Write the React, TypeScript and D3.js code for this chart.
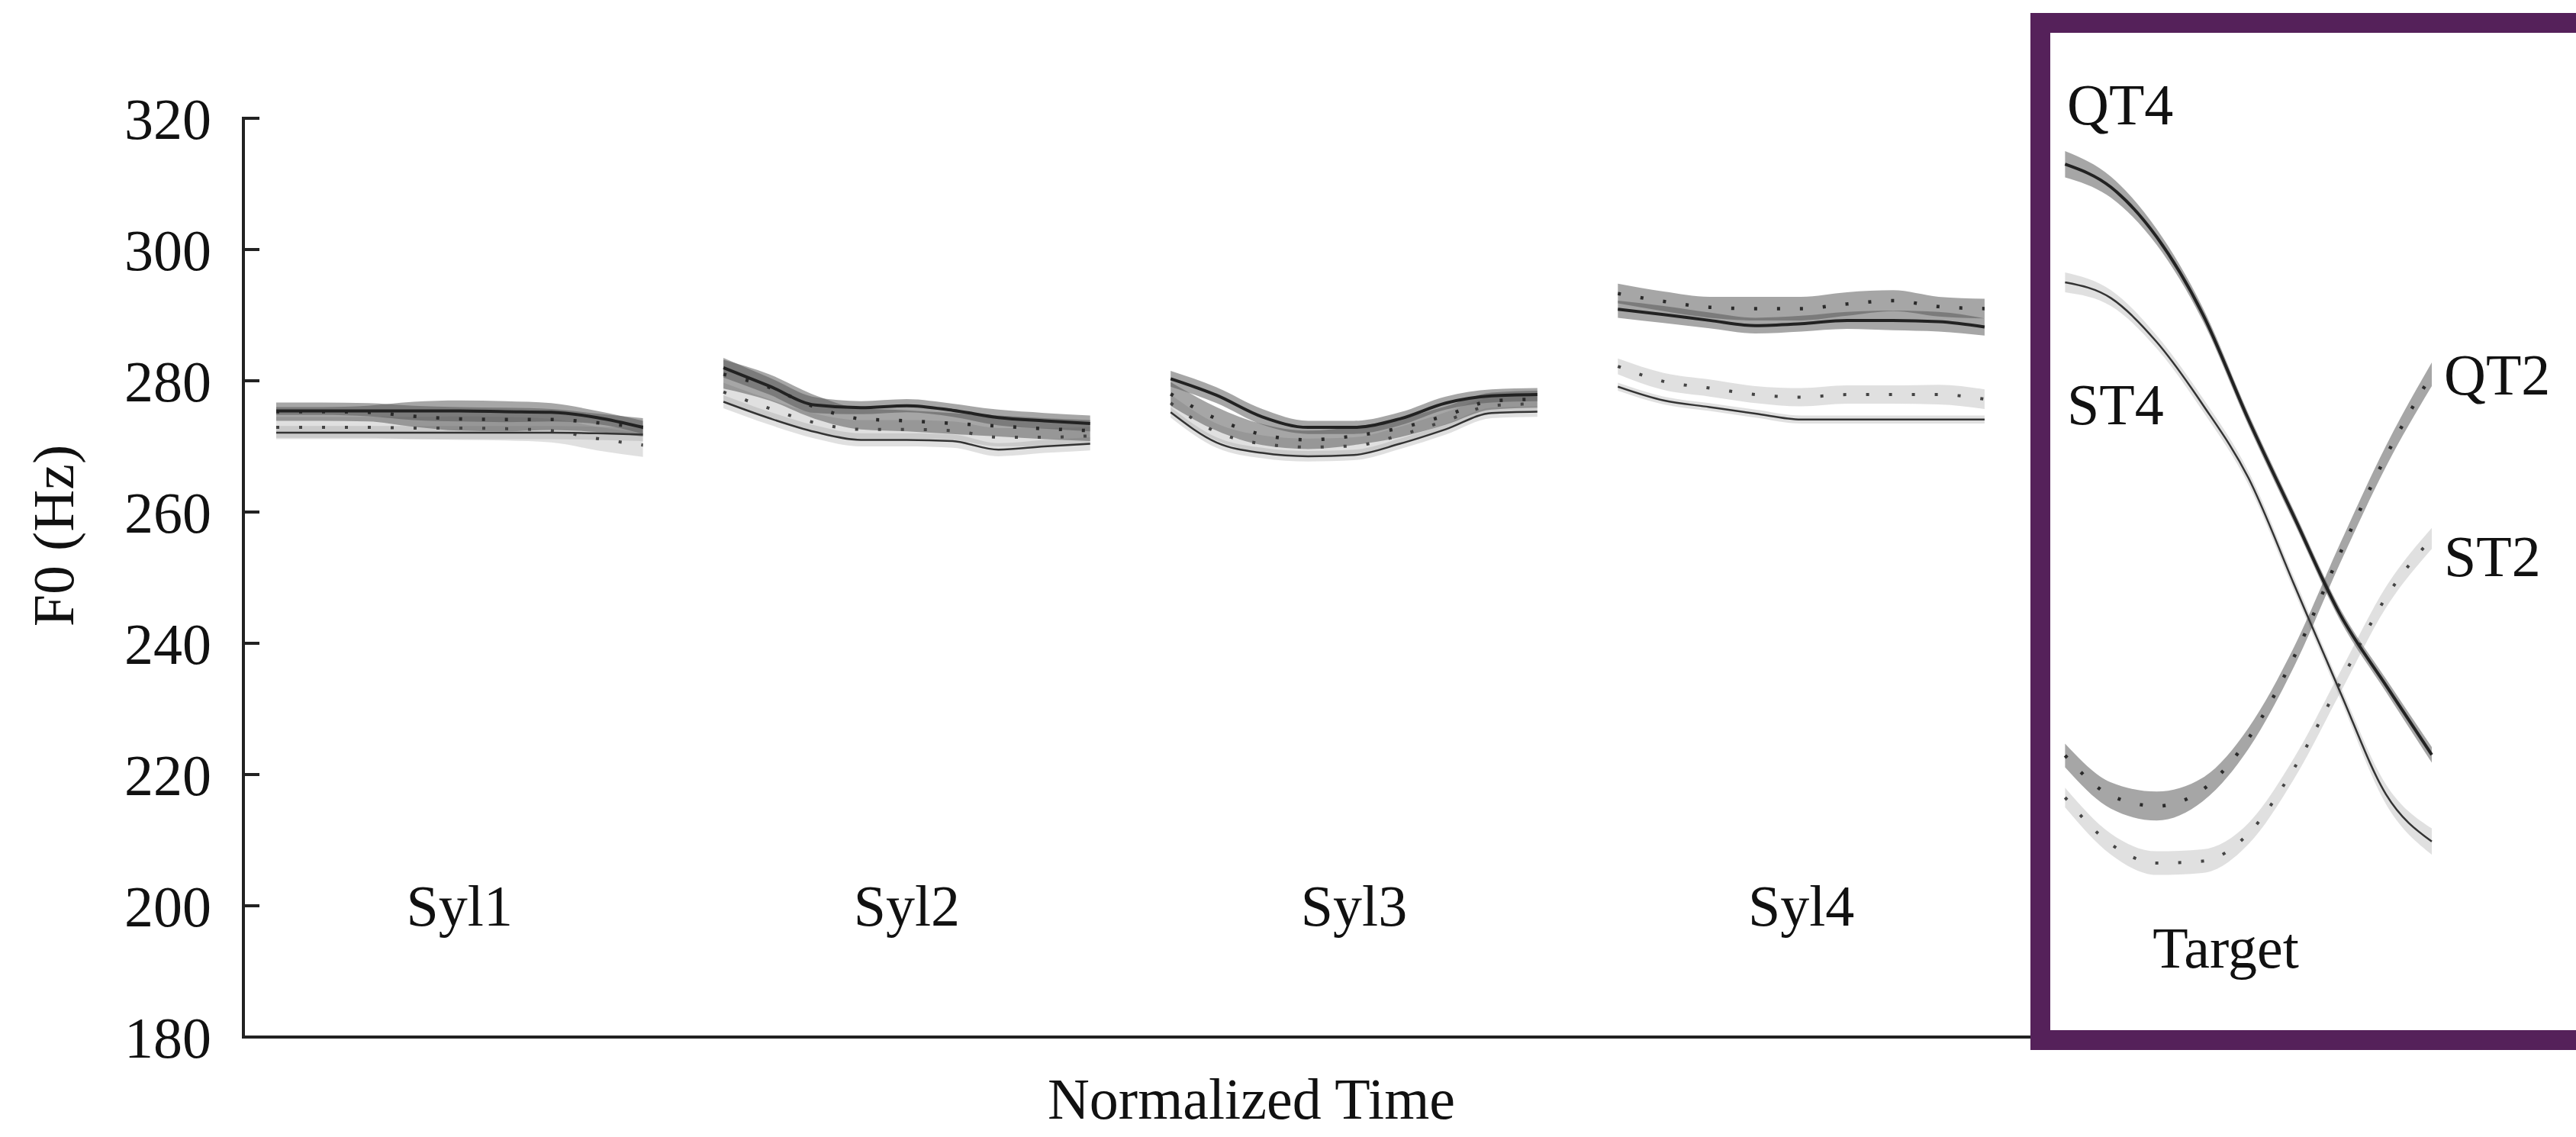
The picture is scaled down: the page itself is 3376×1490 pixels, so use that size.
import React, { useEffect } from "react";
import * as d3 from "d3";

const syllables = ["Syl1", "Syl2", "Syl3", "Syl4", "Target"];
const timeSteps = [0, 0.125, 0.25, 0.375, 0.5, 0.625, 0.75, 0.875, 1];
const yTicks = [180, 200, 220, 240, 260, 280, 300, 320];

// mean F0 (Hz), one row per syllable
const qt4Mean = [
  [275.4, 275.4, 275.4, 275.4, 275.4, 275.3, 275.2, 274.4, 272.9],
  [282.0, 279.2, 276.3, 275.9, 276.2, 275.5, 274.4, 273.9, 273.5],
  [280.3, 277.8, 274.5, 272.9, 272.9, 274.2, 276.6, 277.7, 277.9],
  [290.9, 290.1, 289.2, 288.4, 288.7, 289.2, 289.2, 289.0, 288.2],
  [313.0, 309.5, 301.9, 290.2, 274.1, 259.2, 244.4, 233.6, 223.0],
];
const qt2Mean = [
  [275.3, 275.3, 275.2, 274.6, 274.2, 274.1, 274.1, 273.6, 272.9],
  [281.0, 279.0, 276.0, 274.2, 273.9, 273.5, 273.1, 272.7, 272.4],
  [278.0, 274.2, 271.8, 271.0, 271.6, 272.8, 274.7, 276.9, 277.2],
  [293.3, 292.1, 291.2, 291.0, 291.0, 291.7, 292.2, 291.3, 291.0],
  [222.9, 216.8, 215.2, 217.7, 225.5, 238.0, 253.7, 268.5, 281.0],
];
const st4Mean = [
  [272.1, 272.1, 272.1, 272.1, 272.1, 272.1, 272.1, 272.0, 271.8],
  [276.8, 274.3, 272.2, 271.0, 271.0, 270.8, 269.5, 270.0, 270.4],
  [275.2, 270.6, 269.0, 268.5, 268.7, 270.4, 272.6, 275.1, 275.3],
  [279.1, 277.0, 276.0, 275.0, 274.1, 274.1, 274.1, 274.1, 274.1],
  [295.0, 292.6, 285.9, 276.4, 265.2, 248.9, 232.6, 217.0, 209.8],
];
const st2Mean = [
  [272.9, 272.9, 272.9, 272.8, 272.8, 272.7, 272.4, 271.2, 270.2],
  [278.3, 275.8, 273.6, 272.6, 272.6, 272.4, 271.4, 271.4, 271.6],
  [276.6, 272.2, 270.4, 269.9, 270.1, 271.7, 273.9, 276.2, 276.5],
  [282.2, 279.9, 278.9, 277.9, 277.5, 277.9, 277.9, 277.9, 277.2],
  [216.5, 209.4, 206.5, 206.8, 211.0, 221.0, 234.0, 247.0, 256.0],
];

// half width of the confidence ribbon (Hz)
const qt4Half = [
  [0.6, 0.6, 0.8, 1.4, 1.6, 1.6, 1.4, 1.0, 1.0],
  [1.5, 1.3, 1.2, 1.0, 1.0, 1.0, 1.2, 1.2, 1.2],
  [1.2, 1.2, 1.2, 1.0, 1.0, 1.0, 1.0, 1.0, 1.0],
  [1.3, 1.3, 1.2, 1.2, 1.2, 1.3, 1.5, 1.5, 1.3],
  [2.0, 1.6, 1.2, 1.0, 0.9, 0.9, 0.9, 1.0, 1.2],
];
const qt2Half = [
  [1.4, 1.4, 1.4, 1.6, 1.8, 1.8, 1.6, 1.4, 1.4],
  [2.2, 2.0, 1.8, 1.6, 1.6, 1.6, 1.6, 1.6, 1.6],
  [1.8, 1.8, 1.6, 1.4, 1.4, 1.4, 1.4, 1.3, 1.3],
  [1.5, 1.5, 1.6, 1.8, 1.8, 1.8, 1.6, 1.5, 1.5],
  [1.8, 2.0, 2.2, 1.8, 1.6, 1.5, 1.5, 1.6, 1.8],
];
const st4Half = [
  [1.0, 1.0, 1.0, 1.0, 1.0, 1.0, 1.0, 1.0, 1.0],
  [1.0, 1.0, 1.0, 1.0, 1.0, 1.0, 1.0, 1.0, 1.0],
  [0.8, 0.8, 0.8, 0.8, 0.8, 0.8, 0.8, 0.8, 0.8],
  [0.6, 0.6, 0.6, 0.6, 0.6, 0.6, 0.6, 0.6, 0.6],
  [1.5, 1.2, 1.0, 1.0, 1.0, 1.0, 1.0, 1.5, 2.0],
];
const st2Half = [
  [1.6, 1.6, 1.6, 1.7, 1.8, 1.8, 1.8, 1.8, 1.8],
  [1.4, 1.4, 1.4, 1.4, 1.4, 1.4, 1.4, 1.4, 1.4],
  [1.3, 1.3, 1.3, 1.3, 1.3, 1.3, 1.3, 1.3, 1.3],
  [1.2, 1.3, 1.3, 1.3, 1.4, 1.4, 1.4, 1.5, 1.5],
  [1.5, 1.6, 1.8, 1.8, 1.6, 1.6, 1.6, 1.6, 1.6],
];

const series = [
  { name: "ST2", mean: st2Mean, half: st2Half, fill: "#999999", fillOpacity: 0.3, stroke: "#444", width: 4, dash: "4 26" },
  { name: "ST4", mean: st4Mean, half: st4Half, fill: "#999999", fillOpacity: 0.3, stroke: "#333", width: 2.5, dash: null },
  { name: "QT2", mean: qt2Mean, half: qt2Half, fill: "#555555", fillOpacity: 0.52, stroke: "#2a2a2a", width: 4.5, dash: "4 26" },
  { name: "QT4", mean: qt4Mean, half: qt4Half, fill: "#555555", fillOpacity: 0.52, stroke: "#222", width: 4, dash: null },
];

const W = 3376;
const H = 1490;
const font = "'Liberation Serif', 'Times New Roman', serif";

const App = () => {
  useEffect(() => {
    document.body.style.margin = "0";
  }, []);

  const x = d3.scaleBand().domain(syllables).range([362, 3187]).paddingInner(0.18).paddingOuter(0);
  const y = d3.scaleLinear().domain([180, 320]).range([1359, 155]);

  const tx = (syl, t) => x(syl) + t * x.bandwidth();

  const line = d3.line().curve(d3.curveMonotoneX);
  const area = d3.area().curve(d3.curveMonotoneX);

  const ribbons = [];
  const lines = [];
  series.forEach((s) => {
    syllables.forEach((syl, i) => {
      const m = s.mean[i];
      const h = s.half[i];
      const band = area
        .x((d) => tx(syl, d))
        .y0((d, j) => y(m[j] - h[j]))
        .y1((d, j) => y(m[j] + h[j]))(timeSteps);
      ribbons.push(
        <path key={`r-${s.name}-${syl}`} d={band} fill={s.fill} fillOpacity={s.fillOpacity} stroke="none" />
      );
      const path = line(timeSteps.map((t, j) => [tx(syl, t), y(m[j])]));
      lines.push(
        <path
          key={`l-${s.name}-${syl}`}
          d={path}
          fill="none"
          stroke={s.stroke}
          strokeWidth={s.width}
          strokeDasharray={s.dash || undefined}
        />
      );
    });
  });

  return (
    <svg width={W} height={H} style={{ display: "block", background: "#fff" }} fontFamily={font}>
      {ribbons}
      {lines}

      {/* y axis */}
      <line x1={319} x2={319} y1={y(320) - 2} y2={y(180)} stroke="#222" strokeWidth={4} />
      {yTicks.map((t) => (
        <g key={t}>
          <line x1={319} x2={340} y1={y(t)} y2={y(t)} stroke="#222" strokeWidth={4} />
          <text x={277} y={y(t)} dy="0.35em" textAnchor="end" fontSize={76} fill="#111">
            {t}
          </text>
        </g>
      ))}
      <text transform={`translate(96, 702) rotate(-90)`} textAnchor="middle" fontSize={76} fill="#111">
        F0 (Hz)
      </text>

      {/* x axis */}
      <line x1={317} x2={2680} y1={1359} y2={1359} stroke="#222" strokeWidth={4} />
      {syllables.map((syl) => (
        <text
          key={syl}
          x={syl === "Target" ? 2917 : x(syl) + x.bandwidth() / 2}
          y={syl === "Target" ? 1268 : 1213}
          textAnchor="middle"
          fontSize={76}
          fill="#111"
        >
          {syl}
        </text>
      ))}
      <text x={1640} y={1466} textAnchor="middle" fontSize={76} fill="#111">
        Normalized Time
      </text>

      {/* highlight box around target */}
      <rect x={2674} y={30} width={760} height={1333} fill="none" stroke="#55215a" strokeWidth={26} />

      {/* series labels */}
      <text x={2709} y={163} fontSize={76} fill="#111">QT4</text>
      <text x={2709} y={556} fontSize={76} fill="#111">ST4</text>
      <text x={3203} y={517} fontSize={76} fill="#111">QT2</text>
      <text x={3203} y={755} fontSize={76} fill="#111">ST2</text>
    </svg>
  );
};

export default App;
